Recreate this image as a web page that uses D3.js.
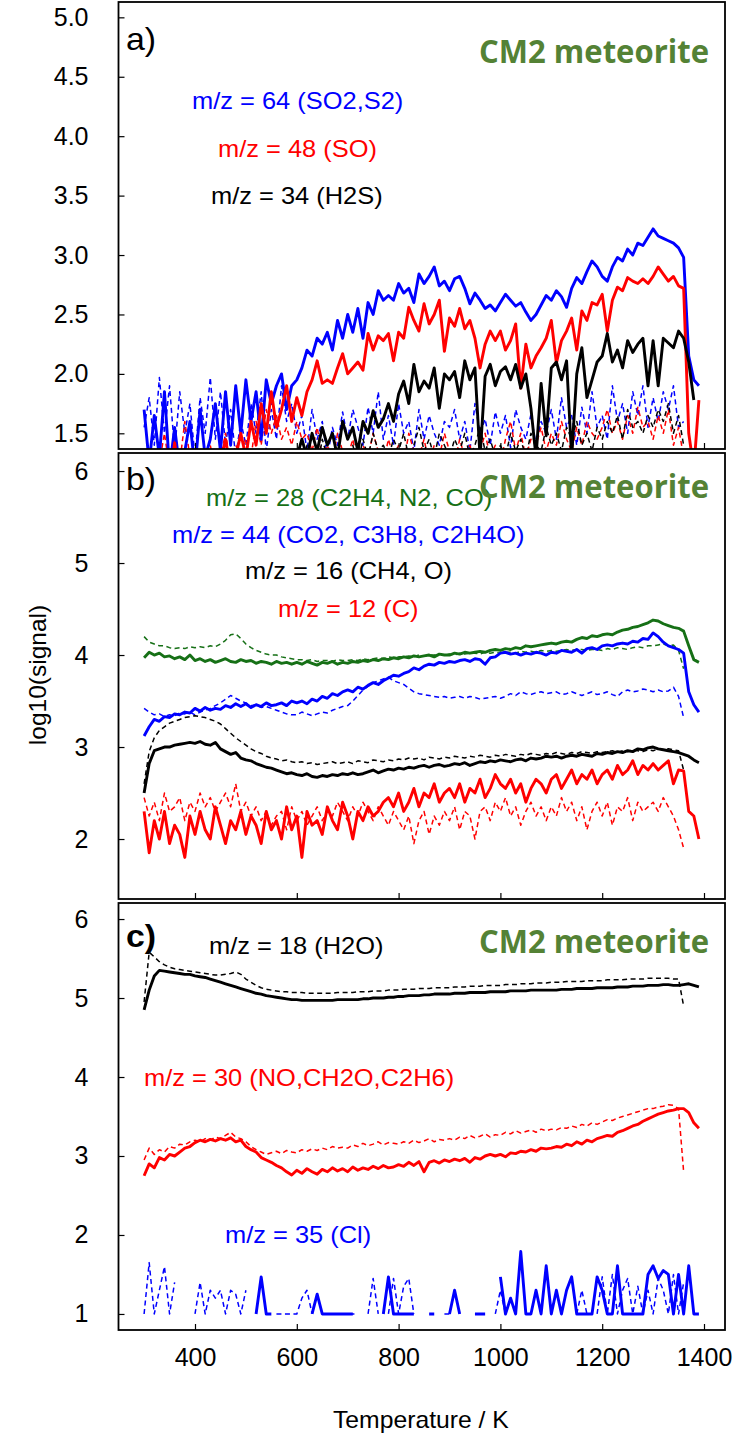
<!DOCTYPE html>
<html>
<head>
<meta charset="utf-8">
<script src="https://cdn.jsdelivr.net/npm/d3@7"></script>
<style>
  body { margin: 0; background: #fff; }
  svg { display: block; }
</style>
</head>
<body>
<div id="chart"></div>
<script>
// temperature grid, K (one reading every 10 K)
const temps = [
  300, 310, 320, 330, 340, 350, 360, 370, 380, 390,
  400, 410, 420, 430, 440, 450, 460, 470, 480, 490,
  500, 510, 520, 530, 540, 550, 560, 570, 580, 590,
  600, 610, 620, 630, 640, 650, 660, 670, 680, 690,
  700, 710, 720, 730, 740, 750, 760, 770, 780, 790,
  800, 810, 820, 830, 840, 850, 860, 870, 880, 890,
  900, 910, 920, 930, 940, 950, 960, 970, 980, 990,
  1000, 1010, 1020, 1030, 1040, 1050, 1060, 1070, 1080, 1090,
  1100, 1110, 1120, 1130, 1140, 1150, 1160, 1170, 1180, 1190,
  1200, 1210, 1220, 1230, 1240, 1250, 1260, 1270, 1280, 1290,
  1300, 1310, 1320, 1330, 1340, 1350, 1360, 1370, 1380, 1390
]

const xTicks = [400, 600, 800, 1000, 1200, 1400]
const yTicksA = [1.5, 2.0, 2.5, 3.0, 3.5, 4.0, 4.5, 5.0]
const yTicksB = [2, 3, 4, 5, 6]
const yTicksC = [1, 2, 3, 4, 5, 6]

// ---- panel a) sulfur species, log10(signal) ----
const a64 = [
  1.7, 1.25, 1.65, 1.3, 1.85, 1.2, 1.55, 1.2, 1.35, 1.6,
  1.2, 1.7, 1.3, 1.45, 1.75, 1.35, 1.85, 1.4, 1.9, 1.5,
  1.95, 1.6, 1.85, 1.45, 1.95, 1.75, 1.9, 2.0, 1.7, 1.9,
  1.95, 2.05, 2.2, 2.15, 2.3, 2.25, 2.35, 2.2, 2.45, 2.3,
  2.5, 2.35, 2.55, 2.3, 2.6, 2.5, 2.7, 2.62, 2.66, 2.62,
  2.76, 2.68, 2.72, 2.6, 2.84, 2.76, 2.82, 2.9, 2.74, 2.78,
  2.7, 2.8, 2.82, 2.72, 2.59, 2.68, 2.62, 2.55, 2.58, 2.53,
  2.6, 2.67, 2.62, 2.57, 2.6, 2.52, 2.45, 2.5, 2.58, 2.66,
  2.62, 2.7, 2.65, 2.56, 2.72, 2.81, 2.76, 2.86, 2.95, 2.9,
  2.82, 2.78, 2.9, 2.98, 2.95, 3.05, 3.0, 3.1, 3.08, 3.15,
  3.22, 3.16, 3.14, 3.12, 3.1, 3.06, 2.98, 2.15, 1.95, 1.9
]
const a48 = [
  1.2, 1.1, 1.3, 1.15, 1.2, 1.1, 1.42, 1.1, 1.2, 1.1,
  1.15, 1.3, 1.1, 1.2, 1.1, 1.25, 1.45, 1.2, 1.3, 1.5,
  1.3, 1.6, 1.4, 1.75, 1.5, 1.85, 1.55, 1.7, 1.9, 1.6,
  1.8, 1.65, 1.85, 1.95, 2.11, 1.92, 1.95, 1.92, 2.05, 2.17,
  2.0, 2.05, 2.1, 2.03, 2.34, 2.2, 2.32, 2.28, 2.34, 2.11,
  2.35, 2.3, 2.56, 2.45, 2.36, 2.59, 2.42, 2.5, 2.62, 2.19,
  2.47, 2.4, 2.55, 2.38, 2.45, 2.3, 2.05, 2.25, 2.36, 2.28,
  2.36, 2.2, 2.28, 2.42, 1.88, 2.25, 2.05, 2.15, 2.22, 2.3,
  2.45, 2.09, 2.28, 2.36, 2.47, 2.2, 2.53, 2.45, 2.6, 2.58,
  2.67, 2.36, 2.62, 2.73, 2.7, 2.81, 2.78, 2.76, 2.8, 2.76,
  2.82, 2.9, 2.84, 2.78, 2.82, 2.74, 2.72, 1.5, 1.2, 1.78
]
const a34 = [
  1.2, 1.2, 1.2, 1.2, 1.2, 1.2, 1.2, 1.2, 1.2, 1.2,
  1.2, 1.2, 1.2, 1.2, 1.2, 1.2, 1.2, 1.2, 1.2, 1.2,
  1.2, 1.2, 1.3, 1.2, 1.25, 1.2, 1.3, 1.2, 1.35, 1.2,
  1.3, 1.45, 1.3, 1.5, 1.35, 1.55, 1.4, 1.5, 1.3, 1.6,
  1.45, 1.55, 1.35, 1.6, 1.5, 1.69, 1.55, 1.62, 1.75, 1.6,
  1.83, 1.94, 1.75, 2.08, 1.85, 1.94, 1.88, 2.05, 1.71, 2.0,
  1.95, 2.02, 1.8, 2.11, 1.95, 2.05, 1.3, 1.98, 2.08, 1.9,
  2.02, 2.06, 1.95, 2.08, 1.88, 2.0, 1.71, 1.3, 1.92, 1.48,
  2.05, 2.1, 1.95, 2.11, 1.3, 2.0, 2.22, 1.8, 1.95, 2.1,
  2.15, 2.34, 2.1, 2.2, 2.05, 2.28, 2.18, 2.25, 2.3, 1.9,
  2.28, 1.9, 2.3, 2.26, 2.22, 2.36, 2.3, 2.1, 1.78, null
]
const a64d = [
  1.55, 1.8, 1.4, 1.97, 1.5, 1.9, 1.35, 1.85, 1.5, 1.75,
  1.3, 1.8, 1.5, 1.97, 1.45, 1.85, 1.4, 1.7, 1.3, 1.6,
  1.4, 1.75, 1.5, 1.85, 1.35, 1.7, 1.45, 1.9, 1.6, 1.75,
  1.5, 1.65, 1.35, 1.7, 1.45, 1.6, 1.3, 1.55, 1.4, 1.68,
  1.45, 1.7, 1.55, 1.4, 1.72, 1.5, 1.85, 1.45, 1.65, 1.4,
  1.75, 1.5, 1.6, 1.35, 1.7, 1.45, 1.65, 1.5, 1.4, 1.6,
  1.55, 1.7, 1.45, 1.6, 1.35, 1.75, 1.5, 1.62, 1.4, 1.68,
  1.5, 1.65, 1.38, 1.7, 1.55, 1.45, 1.66, 1.4, 1.6, 1.5,
  1.7, 1.45, 1.8, 1.55, 1.65, 1.4, 1.72, 1.5, 1.85, 1.55,
  1.65, 1.45, 1.9, 1.6, 1.75, 1.5, 1.85, 1.65, 1.9, 1.55,
  1.8, 1.6, 1.85, 1.7, 1.9, 1.55, 1.6
]
const a48d = [
  1.3, 1.2, 1.35, 1.25, 1.5, 1.2, 1.45, 1.25, 1.6, 1.3,
  1.2, 1.35, 1.25, 1.4, 1.2, 1.3, 1.5, 1.25, 1.4, 1.3,
  1.45, 1.3, 1.6, 1.4, 1.7, 1.5, 1.65, 1.45, 1.55, 1.4,
  1.6, 1.45, 1.5, 1.35, 1.55, 1.3, 1.4, 1.25, 1.5, 1.35,
  1.3, 1.45, 1.25, 1.4, 1.3, 1.5, 1.35, 1.25, 1.45, 1.3,
  1.4, 1.25, 1.5, 1.35, 1.3, 1.45, 1.25, 1.4, 1.3, 1.5,
  1.35, 1.25, 1.45, 1.3, 1.4, 1.25, 1.35, 1.5, 1.3, 1.4,
  1.25, 1.45, 1.6, 1.35, 1.5, 1.3, 1.45, 1.4, 1.55, 1.35,
  1.5, 1.4, 1.6, 1.45, 1.35, 1.55, 1.4, 1.6, 1.5, 1.45,
  1.55, 1.7, 1.5, 1.6, 1.45, 1.65, 1.5, 1.72, 1.55, 1.6,
  1.45, 1.65, 1.5, 1.7, 1.4, 1.55, 1.3
]
const a34d = [
  1.2, 1.2, 1.2, 1.2, 1.2, 1.2, 1.2, 1.2, 1.2, 1.2,
  1.2, 1.2, 1.2, 1.2, 1.2, 1.2, 1.2, 1.2, 1.2, 1.2,
  1.2, 1.25, 1.2, 1.3, 1.2, 1.2, 1.35, 1.2, 1.25, 1.2,
  1.3, 1.2, 1.4, 1.25, 1.2, 1.45, 1.3, 1.2, 1.35, 1.25,
  1.3, 1.4, 1.25, 1.45, 1.3, 1.5, 1.35, 1.4, 1.3, 1.45,
  1.35, 1.5, 1.3, 1.4, 1.55, 1.35, 1.45, 1.3, 1.5, 1.4,
  1.3, 1.45, 1.35, 1.5, 1.3, 1.4, 1.55, 1.35, 1.45, 1.3,
  1.4, 1.3, 1.5, 1.35, 1.45, 1.3, 1.5, 1.4, 1.35, 1.55,
  1.4, 1.5, 1.35, 1.55, 1.45, 1.6, 1.4, 1.5, 1.35, 1.55,
  1.45, 1.6, 1.5, 1.65, 1.45, 1.7, 1.55, 1.6, 1.5, 1.65,
  1.55, 1.7, 1.6, 1.75, 1.5, 1.65, 1.4
]

// ---- panel b) carbon species ----
const b28 = [
  3.97, 4.03, 4.0, 4.02, 3.98, 3.99, 3.96, 3.98, 3.95, 4.0,
  3.94, 3.96, 3.93, 3.95, 3.92, 3.94, 3.96, 3.93, 3.92, 3.95,
  3.93, 3.94, 3.91, 3.93, 3.92, 3.9, 3.93, 3.91, 3.92, 3.9,
  3.92, 3.9, 3.93, 3.91, 3.89, 3.92, 3.91, 3.93, 3.9, 3.92,
  3.91, 3.93, 3.92, 3.94, 3.93, 3.95, 3.94, 3.96, 3.95, 3.97,
  3.96, 3.98, 3.97, 3.99, 3.98, 3.99, 4.0, 3.98, 4.01, 4.0,
  4.0, 4.02, 4.01, 4.03, 4.02, 4.03, 4.04, 4.03, 4.05, 4.06,
  4.05, 4.07, 4.06, 4.08, 4.07, 4.1, 4.09, 4.1, 4.11, 4.12,
  4.13, 4.12, 4.14, 4.15, 4.14, 4.17, 4.19, 4.18, 4.21, 4.2,
  4.22, 4.23, 4.22, 4.25, 4.27, 4.28, 4.3, 4.31, 4.33, 4.35,
  4.38, 4.37, 4.34, 4.32, 4.3, 4.29, 4.26, 4.1, 3.95, 3.92
]
const b44 = [
  3.12, 3.22, 3.3, 3.28, 3.33, 3.32, 3.36, 3.35, 3.38, 3.37,
  3.42, 3.39, 3.43, 3.4, 3.42, 3.41, 3.45, 3.43, 3.47, 3.44,
  3.47, 3.43, 3.46, 3.44, 3.48, 3.45, 3.46, 3.48, 3.45, 3.5,
  3.48, 3.5, 3.47, 3.52, 3.5, 3.55, 3.53, 3.58, 3.56, 3.6,
  3.62, 3.6, 3.65, 3.63, 3.67, 3.7, 3.68, 3.72, 3.75, 3.78,
  3.77, 3.8, 3.82, 3.86, 3.84, 3.88, 3.9, 3.89, 3.92, 3.91,
  3.93, 3.92, 3.94, 3.95, 3.93, 3.96, 3.95, 3.9, 3.97, 3.98,
  4.02, 4.03, 4.01, 4.02, 4.0, 4.02, 4.01, 4.03, 4.02, 4.0,
  4.03, 4.02, 4.05, 4.04, 4.03, 4.06, 4.02, 4.07, 4.08, 4.06,
  4.1, 4.11, 4.1, 4.12, 4.13, 4.12, 4.15, 4.14, 4.18, 4.17,
  4.24, 4.2, 4.14, 4.1, 4.08, 4.06, 4.02, 3.6, 3.46, 3.38
]
const b16 = [
  2.5, 2.82, 2.96, 2.98, 3.0, 3.0, 3.02, 3.03, 3.04, 3.05,
  3.04, 3.06, 3.03, 3.02, 3.05, 2.98, 2.95, 2.92, 2.94, 2.88,
  2.86, 2.85, 2.82, 2.8, 2.78, 2.77, 2.75, 2.73, 2.71, 2.72,
  2.7, 2.69, 2.71, 2.68, 2.67, 2.69, 2.68, 2.7, 2.69, 2.71,
  2.7, 2.72, 2.7, 2.71, 2.73, 2.75, 2.72, 2.74, 2.76, 2.75,
  2.77, 2.76, 2.78, 2.77, 2.79, 2.8, 2.78, 2.8, 2.81, 2.79,
  2.8, 2.82, 2.81, 2.83, 2.8, 2.82, 2.84, 2.83, 2.85, 2.84,
  2.86, 2.85, 2.84, 2.86, 2.87, 2.85, 2.88, 2.87, 2.88, 2.9,
  2.89, 2.9, 2.88, 2.9, 2.91, 2.9, 2.92, 2.91, 2.9, 2.93,
  2.92, 2.94, 2.93, 2.95, 2.94, 2.96, 2.95, 2.98, 2.97, 2.99,
  3.0, 2.98, 2.97, 2.96, 2.95, 2.94, 2.92, 2.9, 2.86, 2.83
]
const b12 = [
  2.3, 1.85, 2.2, 2.0, 2.3, 1.95, 2.15, 2.05, 1.8, 2.25,
  2.05, 2.3, 2.1, 2.0, 2.35, 2.15, 1.95, 2.2, 2.1, 2.3,
  2.05, 2.25, 2.15, 1.95, 2.3, 2.1, 2.2, 2.0, 2.35, 2.1,
  2.25, 1.8, 2.3, 2.15, 2.2, 2.05, 2.35, 2.2, 2.1, 2.4,
  2.25, 2.0, 2.3, 2.2, 2.35, 2.25, 2.3, 2.4, 2.45, 2.35,
  2.5, 2.3, 2.4, 2.55, 2.35, 2.5, 2.45, 2.6, 2.4, 2.5,
  2.55, 2.45, 2.6, 2.4, 2.55, 2.5, 2.65, 2.45, 2.55, 2.7,
  2.6, 2.55, 2.65, 2.5, 2.6, 2.4, 2.55, 2.65, 2.6, 2.5,
  2.65, 2.7, 2.55, 2.65, 2.75, 2.6, 2.7, 2.65, 2.75, 2.6,
  2.7, 2.75, 2.65, 2.8, 2.7, 2.75, 2.85, 2.7, 2.8, 2.75,
  2.82, 2.75, 2.8, 2.85, 2.6, 2.75, 2.74, 2.3, 2.25, 2.0
]
const b28d = [
  4.2, 4.14, 4.12, 4.1, 4.1, 4.08, 4.07, 4.08, 4.07, 4.09,
  4.08, 4.09, 4.08, 4.1, 4.09, 4.12, 4.16, 4.22, 4.23, 4.18,
  4.12, 4.08, 4.05, 4.03, 4.01, 4.0, 4.0, 3.98, 3.97, 3.96,
  3.95, 3.95, 3.94, 3.95, 3.93, 3.94, 3.94, 3.93, 3.95, 3.94,
  3.94, 3.95, 3.94, 3.96, 3.95, 3.96, 3.97, 3.96, 3.98, 3.97,
  3.98, 3.98, 3.99, 3.98, 4.0, 3.99, 4.0, 4.0, 4.01, 4.0,
  4.01, 4.0, 4.02, 4.01, 4.02, 4.02, 4.01, 4.03, 4.02, 4.03,
  4.02, 4.03, 4.03, 4.02, 4.04, 4.03, 4.04, 4.03, 4.05, 4.04,
  4.05, 4.04, 4.05, 4.06, 4.05, 4.06, 4.06, 4.05, 4.06, 4.06,
  4.05, 4.07, 4.06, 4.08, 4.07, 4.06, 4.08, 4.09, 4.08, 4.1,
  4.1, 4.11, 4.12, 4.1, 4.11, 4.05, 3.85
]
const b44d = [
  3.42, 3.38, 3.35, 3.36, 3.33, 3.35, 3.34, 3.37, 3.36, 3.38,
  3.35, 3.38, 3.4, 3.42, 3.45, 3.48, 3.52, 3.56, 3.53, 3.5,
  3.48, 3.45, 3.46, 3.43, 3.44, 3.42, 3.4, 3.38, 3.36, 3.35,
  3.35, 3.38, 3.36, 3.34, 3.36, 3.38, 3.37, 3.4, 3.42, 3.44,
  3.45, 3.5, 3.56, 3.62, 3.66, 3.7, 3.72, 3.74, 3.76, 3.72,
  3.7, 3.68, 3.64, 3.6, 3.58, 3.57, 3.56, 3.55, 3.54, 3.55,
  3.53, 3.54, 3.55, 3.53, 3.55, 3.54, 3.52, 3.53, 3.54, 3.55,
  3.53, 3.55, 3.58, 3.56, 3.6, 3.58, 3.57, 3.59, 3.6, 3.58,
  3.59, 3.6, 3.57, 3.58, 3.6, 3.58, 3.56, 3.58, 3.6, 3.57,
  3.58, 3.6, 3.57, 3.55, 3.6, 3.62, 3.6, 3.61, 3.63, 3.62,
  3.6, 3.62, 3.6, 3.61, 3.65, 3.55, 3.32
]
const b16d = [
  2.6, 2.95, 3.1, 3.18, 3.22, 3.26, 3.28, 3.3, 3.32, 3.33,
  3.34, 3.33, 3.32, 3.3, 3.28, 3.25, 3.2, 3.15, 3.1, 3.06,
  3.02, 2.98, 2.95, 2.93, 2.9, 2.88, 2.87, 2.85, 2.86, 2.84,
  2.83, 2.84, 2.82, 2.83, 2.81, 2.82, 2.83, 2.84, 2.82, 2.83,
  2.84, 2.82, 2.85, 2.84, 2.83, 2.86, 2.85, 2.84, 2.86, 2.85,
  2.87, 2.86, 2.88, 2.87, 2.88, 2.86, 2.89, 2.88, 2.87, 2.89,
  2.88, 2.9, 2.89, 2.88, 2.9, 2.89, 2.91, 2.9, 2.89, 2.91,
  2.9, 2.92, 2.91, 2.9, 2.92, 2.91, 2.93, 2.92, 2.91, 2.93,
  2.92, 2.94, 2.93, 2.92, 2.94, 2.93, 2.95, 2.94, 2.93, 2.95,
  2.94, 2.95, 2.96, 2.94, 2.96, 2.95, 2.97, 2.96, 2.95, 2.97,
  2.96, 2.98, 2.97, 2.98, 2.97, 2.96, 2.75
]
const b12d = [
  2.45, 2.25, 2.4, 2.2, 2.5, 2.3, 2.35, 2.45, 2.2, 2.4,
  2.3, 2.5, 2.35, 2.45, 2.3, 2.4, 2.5, 2.35, 2.6, 2.3,
  2.4, 2.25, 2.35, 2.2, 2.3, 2.15, 2.25, 2.3, 2.1, 2.35,
  2.2, 2.3, 2.15, 2.25, 2.35, 2.2, 2.3, 2.25, 2.4, 2.3,
  2.2, 2.35, 2.25, 2.4, 2.3, 2.2, 2.35, 2.25, 2.15, 2.3,
  2.2, 2.1, 2.25, 1.95, 2.2, 2.3, 2.05, 2.25, 2.15, 2.3,
  2.2, 2.35, 2.1, 2.3, 2.25, 2.0, 2.3, 2.35, 2.2, 2.4,
  2.3, 2.45, 2.25, 2.35, 2.15, 2.3, 2.4, 2.25, 2.35, 2.2,
  2.35, 2.25, 2.45, 2.3, 2.4, 2.2, 2.35, 2.1, 2.3, 2.4,
  2.25, 2.4, 2.15, 2.35, 2.3, 2.45, 2.2, 2.4, 2.3, 2.35,
  2.4, 2.3, 2.45, 2.35, 2.25, 2.1, 1.9
]

// ---- panel c) water, nitrogen/oxygen, chlorine ----
const c18 = [
  4.85, 5.1, 5.28, 5.35, 5.34, 5.33, 5.32, 5.31, 5.3, 5.3,
  5.28, 5.27, 5.26, 5.24, 5.22, 5.2, 5.18, 5.16, 5.14, 5.12,
  5.1, 5.08, 5.06, 5.05, 5.03, 5.02, 5.01, 5.0, 4.99, 4.98,
  4.98, 4.97, 4.97, 4.97, 4.97, 4.97, 4.97, 4.97, 4.98, 4.98,
  4.98, 4.98, 4.98, 4.99, 4.99, 5.0, 5.0, 5.0, 5.01, 5.01,
  5.02, 5.02, 5.03, 5.03, 5.03, 5.04, 5.04, 5.05, 5.05, 5.05,
  5.05, 5.06, 5.06, 5.06, 5.07, 5.07, 5.07, 5.07, 5.08, 5.08,
  5.08, 5.08, 5.09, 5.09, 5.09, 5.09, 5.1, 5.1, 5.1, 5.1,
  5.1, 5.1, 5.11, 5.11, 5.11, 5.12, 5.12, 5.12, 5.12, 5.13,
  5.13, 5.13, 5.13, 5.14, 5.14, 5.14, 5.15, 5.15, 5.15, 5.16,
  5.16, 5.16, 5.17, 5.17, 5.16, 5.16, 5.17, 5.18, 5.16, 5.14
]
const c30 = [
  2.75, 2.9, 2.85, 2.98, 2.95, 3.02, 3.0, 3.05, 3.1, 3.12,
  3.17, 3.2, 3.18, 3.21, 3.19, 3.22, 3.2, 3.23, 3.18, 3.2,
  3.12, 3.08, 3.05, 2.98, 2.95, 2.92, 2.88, 2.85, 2.8, 2.76,
  2.82, 2.78, 2.84, 2.8, 2.77, 2.83, 2.8, 2.85, 2.81, 2.84,
  2.8, 2.86, 2.82, 2.85, 2.83, 2.87, 2.84, 2.88, 2.85, 2.86,
  2.89, 2.87, 2.92, 2.88, 2.93, 2.8, 2.92, 2.94, 2.91, 2.95,
  2.93, 2.96, 2.94, 2.97, 2.92, 2.98, 2.96, 3.0, 3.02, 3.0,
  3.02, 2.99, 3.04, 3.03, 3.06, 3.05, 3.08, 3.06, 3.1, 3.09,
  3.1, 3.12, 3.11, 3.15, 3.13, 3.18, 3.15, 3.2, 3.18, 3.22,
  3.24, 3.26, 3.25, 3.3, 3.32, 3.35, 3.38, 3.4, 3.44, 3.47,
  3.5, 3.53, 3.55, 3.57, 3.58, 3.6, 3.6, 3.55, 3.42, 3.35
]
const c35 = [
  null, null, null, null, null, null, null, null, null, null,
  null, null, null, null, null, null, null, null, null, null,
  null, null, 1.0, 1.47, 1.0, 1.0, null, null, null, null,
  null, null, null, 1.0, 1.25, 1.0, 1.0, 1.0, 1.0, 1.0,
  1.0, 1.0, null, null, null, null, null, 1.0, 1.47, 1.0,
  1.0, 1.0, 1.0, 1.0, null, null, 1.0, 1.0, null, null,
  1.0, 1.3, 1.0, null, null, 1.0, 1.0, 1.0, null, null,
  1.47, 1.0, 1.2, 1.0, 1.79, 1.0, 1.0, 1.3, 1.0, 1.61,
  1.0, 1.3, 1.0, 1.3, 1.47, 1.0, 1.0, 1.0, 1.0, 1.47,
  1.3, 1.0, 1.0, 1.61, 1.0, 1.0, 1.0, 1.0, 1.0, 1.5,
  1.61, 1.45, 1.55, 1.5, 1.0, 1.5, 1.0, 1.61, 1.0, 1.0
]
const c18d = [
  4.95, 5.58, 5.52, 5.46, 5.42, 5.39, 5.37, 5.36, 5.35, 5.34,
  5.33, 5.32, 5.31, 5.3, 5.29, 5.29, 5.3, 5.31, 5.33, 5.3,
  5.24, 5.2, 5.16, 5.13, 5.11, 5.1, 5.09, 5.08, 5.08, 5.07,
  5.07, 5.07, 5.06, 5.06, 5.06, 5.06, 5.06, 5.06, 5.07, 5.07,
  5.07, 5.07, 5.08, 5.08, 5.08, 5.09, 5.09, 5.09, 5.1, 5.1,
  5.1, 5.11, 5.11, 5.11, 5.12, 5.12, 5.12, 5.13, 5.13, 5.13,
  5.13, 5.14, 5.14, 5.14, 5.15, 5.15, 5.15, 5.16, 5.16, 5.16,
  5.16, 5.17, 5.17, 5.17, 5.18, 5.18, 5.18, 5.19, 5.19, 5.19,
  5.2, 5.2, 5.2, 5.21, 5.21, 5.21, 5.21, 5.22, 5.22, 5.22,
  5.22, 5.23, 5.23, 5.23, 5.23, 5.24, 5.24, 5.24, 5.24, 5.25,
  5.25, 5.25, 5.25, 5.25, 5.24, 5.24, 4.9
]
const c30d = [
  2.95, 3.1, 3.02, 3.08, 3.05, 3.12, 3.1, 3.15, 3.14, 3.18,
  3.2, 3.18, 3.22, 3.2, 3.24, 3.22, 3.26, 3.3, 3.24, 3.22,
  3.18, 3.12, 3.08, 3.05, 3.02, 3.04, 3.06, 3.03, 3.07, 3.05,
  3.04, 3.08, 3.06, 3.09, 3.07, 3.1, 3.08, 3.12, 3.1, 3.11,
  3.1, 3.14, 3.12, 3.16, 3.13, 3.15, 3.18, 3.14, 3.17, 3.16,
  3.15, 3.18, 3.16, 3.2, 3.17, 3.19, 3.22, 3.18, 3.21, 3.2,
  3.22, 3.2, 3.24, 3.22, 3.26, 3.23, 3.25, 3.28, 3.24, 3.27,
  3.26, 3.3, 3.28, 3.32, 3.29, 3.31, 3.33, 3.3, 3.34, 3.32,
  3.34, 3.33, 3.36, 3.35, 3.38, 3.36, 3.4, 3.38, 3.42, 3.4,
  3.43, 3.46, 3.45, 3.48, 3.5, 3.52, 3.54, 3.56, 3.58, 3.6,
  3.6, 3.62, 3.63, 3.65, 3.64, 3.6, 2.8
]
const c35d = [
  1.0, 1.65, 1.0, 1.3, 1.6, 1.0, 1.4, null, null, null,
  1.0, 1.4, 1.0, 1.3, 1.2, 1.3, 1.0, 1.3, 1.25, 1.0,
  1.3, null, null, null, null, null, 1.0, 1.0, 1.0, 1.0,
  1.0, 1.2, 1.3, 1.0, null, null, null, 1.0, 1.0, 1.0,
  1.0, 1.0, 1.0, null, 1.0, 1.45, 1.0, null, 1.0, 1.45,
  1.0, 1.35, 1.45, 1.0, null, null, null, null, null, 1.0,
  1.0, 1.3, null, null, null, null, null, null, null, 1.0,
  1.3, 1.0, null, null, null, null, null, null, null, null,
  1.0, null, null, null, null, 1.0, 1.3, 1.0, null, 1.0,
  1.47, 1.0, 1.5, 1.0, 1.3, 1.45, 1.0, 1.35, 1.0, 1.3,
  1.0, 1.45, 1.3, 1.0, 1.5, 1.0, 1.4
]

const BLUE = "#0000ff", RED = "#ff0000", BLACK = "#000000", GREEN = "#167016", OLIVE = "#548235"

const width = 748, height = 1440
const left = 118.5, right = 725
const FONT = "'Liberation Sans', Arial, sans-serif"

const panels = [
  {
    name: "a)", top: 2, bottom: 449, domain: [1.368, 5.129], ticks: yTicksA, fmt: d3.format(".1f"),
    labelY: 50, cmY: 63,
    series: [
      { v: a64d, c: BLUE, dash: true }, { v: a48d, c: RED, dash: true }, { v: a34d, c: BLACK, dash: true },
      { v: a64, c: BLUE }, { v: a48, c: RED }, { v: a34, c: BLACK }
    ],
    legend: [
      { t: "m/z = 64 (SO2,S2)", c: BLUE, x: 192, y: 109 },
      { t: "m/z = 48 (SO)", c: RED, x: 218, y: 157 },
      { t: "m/z = 34 (H2S)", c: BLACK, x: 211, y: 204 }
    ]
  },
  {
    name: "b)", top: 453, bottom: 899, domain: [1.348, 6.196], ticks: yTicksB, fmt: d3.format("d"),
    labelY: 490, cmY: 498,
    series: [
      { v: b28d, c: GREEN, dash: true }, { v: b44d, c: BLUE, dash: true },
      { v: b16d, c: BLACK, dash: true }, { v: b12d, c: RED, dash: true },
      { v: b12, c: RED }, { v: b16, c: BLACK }, { v: b44, c: BLUE }, { v: b28, c: GREEN }
    ],
    legend: [
      { t: "m/z = 28 (C2H4, N2, CO)", c: GREEN, x: 206, y: 506 },
      { t: "m/z = 44 (CO2, C3H8, C2H4O)", c: BLUE, x: 172, y: 543 },
      { t: "m/z = 16 (CH4, O)", c: BLACK, x: 245, y: 579 },
      { t: "m/z = 12 (C)", c: RED, x: 278, y: 617 }
    ]
  },
  {
    name: "c)", top: 903, bottom: 1330, domain: [0.797, 6.203], ticks: yTicksC, fmt: d3.format("d"),
    labelY: 947, cmY: 953, bold: true, xLabels: true,
    series: [
      { v: c18d, c: BLACK, dash: true }, { v: c30d, c: RED, dash: true }, { v: c35d, c: BLUE, dash: true },
      { v: c18, c: BLACK }, { v: c30, c: RED }, { v: c35, c: BLUE }
    ],
    legend: [
      { t: "m/z = 18 (H2O)", c: BLACK, x: 209, y: 954 },
      { t: "m/z = 30 (NO,CH2O,C2H6)", c: RED, x: 144, y: 1086 },
      { t: "m/z = 35 (Cl)", c: BLUE, x: 225, y: 1243 }
    ]
  }
]

const x = d3.scaleLinear().domain([400, 1400]).range([195, 704])

const svg = d3.create("svg")
  .attr("viewBox", [0, 0, width, height])
  .attr("width", width)
  .attr("height", height)
  .style("font-family", FONT)

// text slightly stretched horizontally, like the source figure
const addText = (g, px, py, str, { size = 24, color = BLACK, weight = "normal", sx = 1.06, family = FONT } = {}) =>
  g.append("text")
    .attr("transform", `translate(${px},${py}) scale(${sx},1)`)
    .attr("fill", color)
    .attr("font-size", size)
    .attr("font-weight", weight)
    .attr("font-family", family)
    .text(str)

panels.forEach((p, i) => {
  const y = d3.scaleLinear().domain(p.domain).range([p.bottom, p.top])
  const g = svg.append("g").attr("class", "panel-" + i)

  g.append("clipPath").attr("id", "clip" + i)
    .append("rect")
    .attr("x", left).attr("y", p.top)
    .attr("width", right - left).attr("height", p.bottom - p.top)

  const line = d3.line()
    .defined(d => d[1] != null)
    .x(d => x(d[0]))
    .y(d => y(d[1]))

  g.append("g")
    .attr("clip-path", `url(#clip${i})`)
    .selectAll("path")
    .data(p.series)
    .join("path")
    .attr("fill", "none")
    .attr("stroke", d => d.c)
    .attr("stroke-width", d => (d.dash ? 1.5 : 2.9))
    .attr("stroke-dasharray", d => (d.dash ? "5,3.5" : null))
    .attr("stroke-linejoin", "round")
    .attr("d", d => line(d.v.map((v, k) => [temps[k], v])))

  // y axis, ticks pointing inward
  const yAxis = d3.axisLeft(y).tickValues(p.ticks).tickFormat(p.fmt).tickSize(-6).tickPadding(30)
  const ya = g.append("g").attr("transform", `translate(${left},0)`).call(yAxis)
  ya.select(".domain").remove()
  ya.selectAll("text").attr("font-size", 25).attr("font-family", FONT).attr("fill", BLACK)
  ya.selectAll("line").attr("stroke-width", 1.2)

  // x axis ticks on each panel, labels only on the last
  const xAxis = d3.axisBottom(x).tickValues(xTicks).tickSize(-6).tickPadding(18)
    .tickFormat(p.xLabels ? d3.format("d") : "")
  const xa = g.append("g").attr("transform", `translate(0,${p.bottom})`).call(xAxis)
  xa.select(".domain").remove()
  xa.selectAll("text").attr("font-size", 25).attr("font-family", FONT).attr("fill", BLACK)
  xa.selectAll("line").attr("stroke-width", 1.2)

  g.append("rect")
    .attr("x", left).attr("y", p.top)
    .attr("width", right - left).attr("height", p.bottom - p.top)
    .attr("fill", "none").attr("stroke", BLACK).attr("stroke-width", 1.8)

  addText(g, 126, p.labelY, p.name, { size: 32, weight: p.bold ? "bold" : "normal", sx: 1.06 })

  p.legend.forEach(l => addText(g, l.x, l.y, l.t, { color: l.c }))

  g.append("text")
    .attr("x", 479).attr("y", p.cmY)
    .attr("fill", OLIVE)
    .attr("font-size", 32)
    .attr("font-weight", "bold")
    .attr("font-family", "'Open Sans', Lato, sans-serif")
    .attr("textLength", 230)
    .attr("lengthAdjust", "spacingAndGlyphs")
    .text("CM2 meteorite")
})

addText(svg, 333, 1428, "Temperature / K", { size: 24, sx: 1.03 })

svg.append("text")
  .attr("transform", "translate(46,675) rotate(-90)")
  .attr("text-anchor", "middle")
  .attr("font-size", 24.5)
  .attr("font-family", FONT)
  .attr("fill", BLACK)
  .text("log10(signal)")

document.querySelector("#chart").append(svg.node())
</script>
</body>
</html>
